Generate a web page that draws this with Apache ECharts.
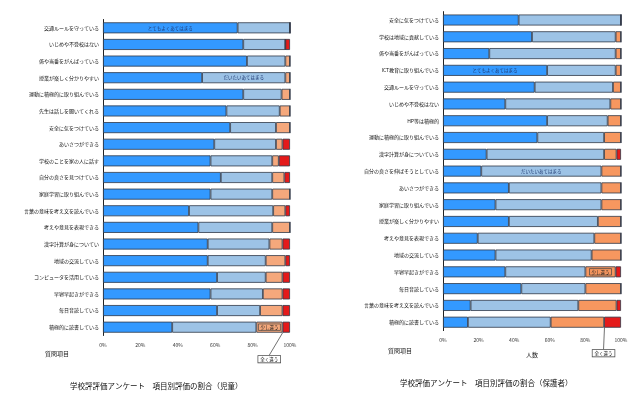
<!DOCTYPE html>
<html>
<head>
<meta charset="utf-8">
<script src="https://cdn.jsdelivr.net/npm/echarts@6/dist/echarts.min.js"></script>
<style>
html,body{margin:0;padding:0;background:#fff;}
#main{width:640px;height:398px;}
</style>
</head>
<body>
<div id="main"></div>
<script>
// 児童
var catChild = ['交通ルールを守っている','いじめや不登校はない','係や当番をがんばっている','授業が楽しく分かりやすい',
    '運動に積極的に取り組んでいる','先生は話しを聞いてくれる','安全に気をつけている','あいさつができる',
    '学校のことを家の人に話す','自分の良さを見つけている','家庭学習に取り組んでいる','言葉の意味を考え文を読んでいる',
    '考えや意見を表現できる','漢字計算が身についてい','地域の交流している','コンピュータを活用している',
    '早寝早起きができる','毎日音読している','積極的に読書している'];
var childA = [72,75,77,53,75,66,68,59.5,57.5,63,57.5,46,51,56,56,61,57.5,61,37];      // とてもよくあてはまる
var childB = [28,22.5,20.5,44.5,20.5,28.5,24.5,33,33,27.5,33,45,39.5,33,31,26,28,23,45]; // だいたいあてはまる
var childC = [0,0,2.5,2.5,4.5,5.5,7.5,3.5,3.5,6.5,9.5,6.5,9.5,7,10.5,9,10.5,12,14];     // 少し違う
var childD = [0,2.5,0,0,0,0,0,4,6,3,0,2.5,0,4,2.5,4,4,4,4];                              // 全く違う

// 保護者
var catParent = ['安全に気をつけている','学校は地域に貢献している','係や当番をがんばっている','ICT教育に取り組んでいる',
    '交通ルールを守っている','いじめや不登校はない','HP等は積極的','運動に積極的に取り組んでいる',
    '漢字計算が身についている','自分の良さを伸ばそうとしている','あいさつができる','家庭学習に取り組んでいる',
    '授業が楽しく分かりやすい','考えや意見を表現できる','地域の交流している','早寝早起きができる',
    '毎日音読している','言葉の意味を考え文を読んでいる','積極的に読書している'];
var parentA = [42.5,50,26,58.5,51.5,35,58.5,53,24.5,21.5,37,29.5,37,19.5,29.5,35,44,15.5,14];
var parentB = [57.5,47,71,38.5,44,59,34,37.5,66,67.5,52,59.5,50,65.5,54,45,36,60.5,46.5];
var parentC = [0,3,3,3,4.5,6,7.5,9.5,7,11,11,11,13,15,16.5,17,20,21.5,30];
var parentD = [0,0,0,0,0,0,0,0,2.5,0,0,0,0,0,0,3,0,2.5,9.5];

var xTicks = ['0%','20%','40%','60%','80%','100%'];
var seriesNames = ['とてもよくあてはまる','だいたいあてはまる','少し違う','全く違う'];

var FONT = 'Noto Sans CJK JP';
var colors = ['#3399ff','#9dc3e6','#f5a87c','#e41a1a'];
var colorsR = ['#3399ff','#9dc3e6','#f7975f','#e41a1a'];

// 特定の棒にだけラベルをつける
function withLabel(arr, idx, text, boxed) {
    return arr.map(function (v, i) {
        if (i !== idx) return v;
        var lb = {show: true, formatter: text, position: 'inside', fontSize: 4.5, color: '#1f3870', fontFamily: FONT};
        if (boxed) {
            lb.color = '#222';
            lb.borderColor = '#444';
            lb.borderWidth = 0.7;
            lb.padding = [1, 2];
        }
        return {value: v, label: lb};
    });
}
function callout(arr, idx) {
    return arr.map(function (v, i) {
        if (i !== idx) return v;
        return {
            value: v,
            label: {show: true, formatter: '全く違う', position: 'inside', fontSize: 4.5, color: '#222',
                fontFamily: FONT, backgroundColor: '#fff', borderColor: '#444', borderWidth: 0.7, padding: [1, 2]},
            labelLine: {show: true, lineStyle: {color: '#333', width: 0.7}}
        };
    });
}

function makeSeries(gi, data, cols, lay) {
    return data.map(function (d, k) {
        var s = {
            name: seriesNames[k], type: 'bar', stack: 'g' + gi,
            xAxisIndex: gi, yAxisIndex: gi, barWidth: 11,
            itemStyle: {color: cols[k], borderColor: '#303848', borderWidth: 0.8},
            data: d
        };
        if (k === 3) s.labelLayout = lay;
        return s;
    });
}

var myChart = echarts.init(document.getElementById('main'));

function xAx(gi, name) {
    return {
        gridIndex: gi, type: 'value', min: 0, max: 100, interval: 20,
        axisLine: {show: false}, axisTick: {show: false}, splitLine: {show: false},
        axisLabel: {formatter: function (v) { return xTicks[v / 20]; }, fontSize: 5, color: '#333', margin: 7, fontFamily: FONT},
        name: name, nameLocation: 'middle', nameGap: 21,
        nameTextStyle: {fontSize: 6, color: '#222', fontFamily: FONT}
    };
}
function yAx(gi, cats) {
    return {
        gridIndex: gi, type: 'category', inverse: true, data: cats,
        axisLine: {show: true, lineStyle: {color: '#222', width: 1}},
        axisTick: {show: false},
        axisLabel: {fontSize: 5, color: '#111', margin: 4, fontFamily: FONT, interval: 0}
    };
}

var option = {
    animation: false,
    title: [
        {text: '学校評評価アンケート　項目別評価の割合（児童）', left: 65, top: 377,
            textStyle: {fontSize: 7.5, fontWeight: 'normal', color: '#111', fontFamily: FONT}},
        {text: '学校評価アンケート　項目別評価の割合（保護者）', left: 395, top: 374,
            textStyle: {fontSize: 7.5, fontWeight: 'normal', color: '#111', fontFamily: FONT}},
        {text: '質問項目', left: 40, top: 346, textStyle: {fontSize: 6, fontWeight: 'normal', color: '#222', fontFamily: FONT}},
        {text: '質問項目', left: 383, top: 343, textStyle: {fontSize: 6, fontWeight: 'normal', color: '#222', fontFamily: FONT}}
    ],
    grid: [
        {left: 103, top: 19.5, width: 187, height: 316},
        {left: 443, top: 11.6, width: 178, height: 319}
    ],
    xAxis: [xAx(0, ''), xAx(1, '人数')],
    yAxis: [yAx(0, catChild), yAx(1, catParent)],
    series: makeSeries(0, [
        withLabel(childA, 0, 'とてもよくあてはまる', false),
        withLabel(childB, 3, 'だいたいあてはまる', false),
        withLabel(childC, 18, '少し違う', true),
        callout(childD, 18)
    ], colors, {dx: -17, dy: 32}).concat(makeSeries(1, [
        withLabel(parentA, 3, 'とてもよくあてはまる', false),
        withLabel(parentB, 9, 'だいたいあてはまる', false),
        withLabel(parentC, 15, '少し違う', true),
        callout(parentD, 18)
    ], colorsR, {dx: -9, dy: 31}))
};
myChart.setOption(option);
</script>
</body>
</html>
